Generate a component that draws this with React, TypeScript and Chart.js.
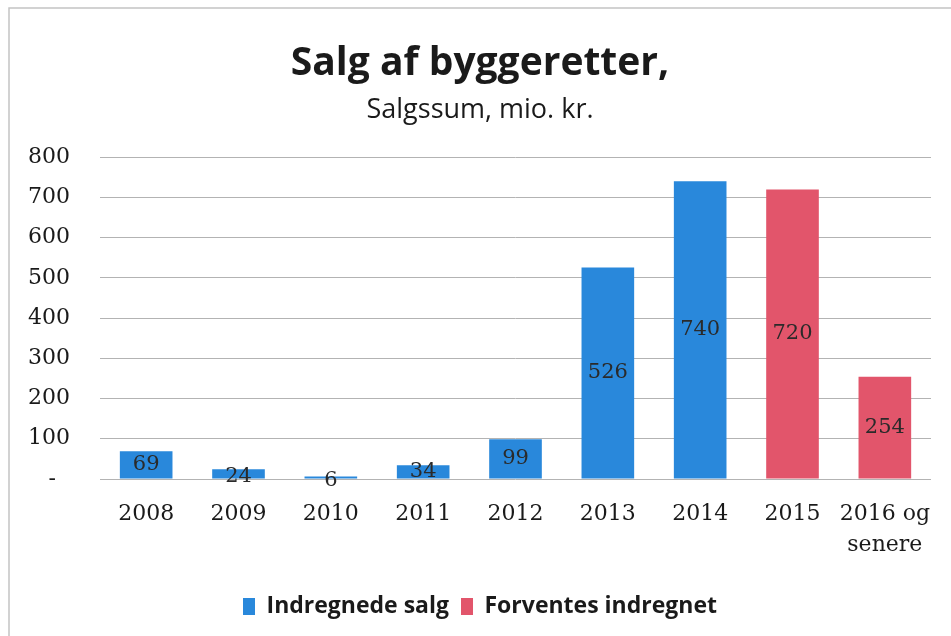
import React, { useEffect, useRef } from "react";
import { Chart, registerables } from "chart.js";

Chart.register(...registerables);

const categories: (string | string[])[] = ["2008", "2009", "2010", "2011", "2012", "2013", "2014", "2015", ["2016 og", "senere"]];
const recognisedSales: (number | null)[] = [69, 24, 6, 34, 99, 526, 740, null, null];
const expectedSales: (number | null)[] = [null, null, null, null, null, null, null, 720, 254];
const yTickValues = [0, 100, 200, 300, 400, 500, 600, 700, 800];
const yTickLabels = ["-  ", "100", "200", "300", "400", "500", "600", "700", "800"];
const seriesNames = ["Indregnede salg", "Forventes indregnet"];
const titleText = "Salg af byggeretter,";
const subtitleText = "Salgssum, mio. kr.";

const BLUE = "#2988db";
const RED = "#e2556b";

const framePlugin = {
  id: "frame",
  beforeDraw(chart: any) {
    const ctx = chart.ctx;
    ctx.save();
    ctx.fillStyle = "#ffffff";
    ctx.fillRect(0, 0, chart.width, chart.height);
    ctx.strokeStyle = "#c4c4c4";
    ctx.lineWidth = 1.5;
    ctx.beginPath();
    ctx.moveTo(9, chart.height);
    ctx.lineTo(9, 8);
    ctx.lineTo(chart.width, 8);
    ctx.stroke();
    ctx.restore();
  },
};

const valueLabelPlugin = {
  id: "valueLabels",
  afterDatasetsDraw(chart: any) {
    const ctx = chart.ctx;
    ctx.save();
    ctx.font = "21px 'DejaVu Serif'";
    ctx.fillStyle = "#2a2a2a";
    ctx.textAlign = "center";
    ctx.textBaseline = "middle";
    chart.data.datasets.forEach((ds: any, di: number) => {
      const meta = chart.getDatasetMeta(di);
      meta.data.forEach((el: any, i: number) => {
        const v = ds.data[i];
        if (v === null || v === undefined) return;
        const h = el.base - el.y;
        let y = (el.y + el.base) / 2;
        if (h < 12) y += 3;
        ctx.fillText(String(v), el.x, y);
      });
    });
    ctx.restore();
  },
};

export default function App() {
  const ref = useRef<HTMLCanvasElement | null>(null);
  useEffect(() => {
    if (!ref.current) return;
    const chart = new Chart(ref.current, {
      type: "bar",
      data: {
        labels: categories as any,
        datasets: [
          { label: seriesNames[0], data: recognisedSales, backgroundColor: BLUE, borderWidth: 0 },
          { label: seriesNames[1], data: expectedSales, backgroundColor: RED, borderWidth: 0 },
        ],
      },
      options: {
        animation: false,
        responsive: false,
        maintainAspectRatio: false,
        devicePixelRatio: 1,
        layout: { padding: { left: 27, right: 18, top: 0, bottom: 8 } },
        datasets: { bar: { categoryPercentage: 1, barPercentage: 0.57 } },
        scales: {
          x: {
            stacked: true,
            grid: { display: false, drawTicks: false },
            border: { display: false },
            ticks: {
              color: "#1a1a1a",
              font: { family: "'DejaVu Serif'", size: 22, lineHeight: 1.41 },
              padding: 20,
              maxRotation: 0,
              minRotation: 0,
              autoSkip: false,
            },
            afterFit: (s: any) => { s.height = 104; },
          },
          y: {
            stacked: true,
            min: 0,
            max: 800,
            afterBuildTicks: (s: any) => { s.ticks = yTickValues.map((v) => ({ value: v })); },
            grid: { color: "#b3b3b3", lineWidth: 1, drawTicks: false },
            border: { display: false },
            ticks: {
              color: "#1a1a1a",
              font: { family: "'DejaVu Serif'", size: 22 },
              padding: 30,
              callback: (v: any) => yTickLabels[yTickValues.indexOf(Number(v))] ?? String(v),
            },
            afterFit: (s: any) => { s.width = 73; },
          },
        },
        plugins: {
          title: {
            display: true,
            text: titleText,
            color: "#1a1a1a",
            font: { family: "'Open Sans'", size: 39, weight: "bold", lineHeight: 1.2 },
            padding: { top: 40, bottom: 0 },
          },
          subtitle: {
            display: true,
            text: subtitleText,
            color: "#1a1a1a",
            font: { family: "'Open Sans'", size: 27, weight: "normal", lineHeight: 1.2 },
            padding: { top: 7, bottom: 31 },
          },
          legend: {
            position: "bottom",
            labels: {
              boxWidth: 12,
              boxHeight: 17,
              padding: 12,
              color: "#1a1a1a",
              font: { family: "'Open Sans'", size: 23, weight: "bold" },
            },
          },
          tooltip: { enabled: false },
        },
      },
      plugins: [framePlugin, valueLabelPlugin],
    } as any);
    return () => chart.destroy();
  }, []);
  return (
    <div style={{ position: "absolute", left: 0, top: 0, width: 951, height: 636 }}>
      <canvas ref={ref} width={951} height={636} style={{ width: 951, height: 636, display: "block" }} />
    </div>
  );
}
